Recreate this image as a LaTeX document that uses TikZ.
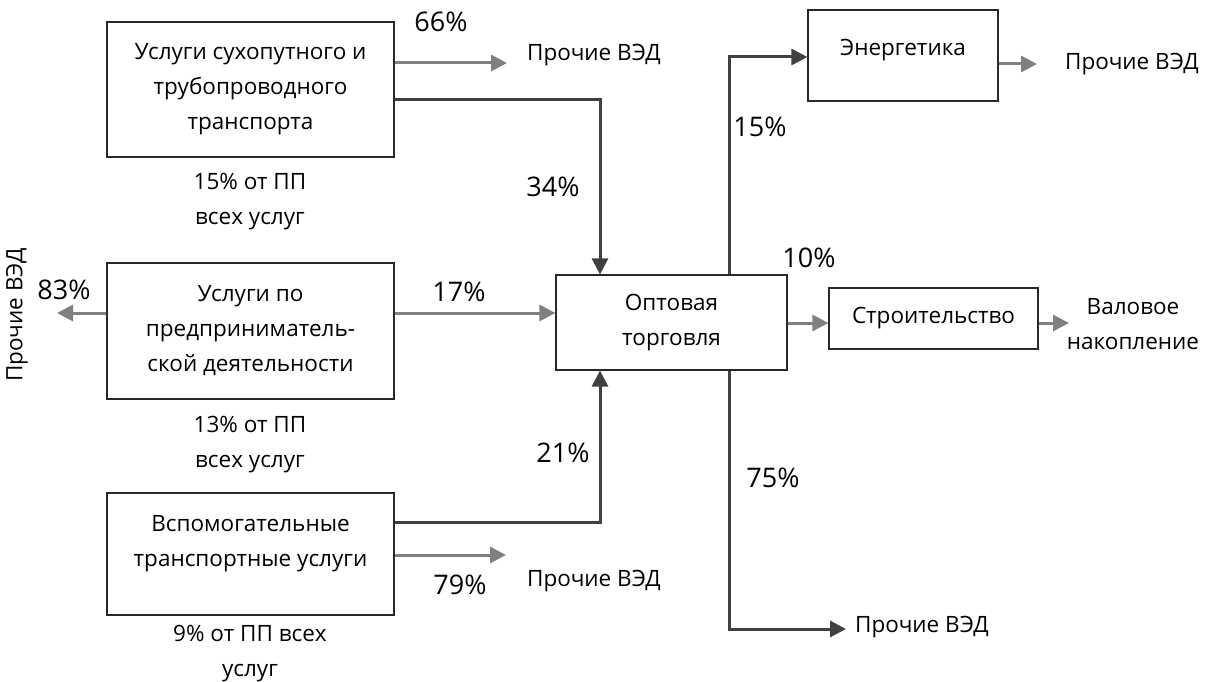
\documentclass[tikz,border=0pt]{standalone}
\usepackage{fontspec}
\setmainfont{Open Sans}
\usetikzlibrary{arrows.meta}

\definecolor{grayline}{RGB}{128,128,128}
\definecolor{darkline}{RGB}{64,64,64}
\definecolor{boxline}{RGB}{40,40,40}

\tikzset{
  box/.style={draw=boxline, line width=1.2pt, inner sep=0pt, align=center,
    font=\fontsize{22.5}{35}\selectfont},
  txt/.style={inner sep=0pt, align=center, font=\fontsize{22.5}{35}\selectfont},
  pct/.style={inner sep=0pt, font=\fontsize{27}{30}\selectfont},
  grayarr/.style={draw=grayline, line width=3pt,
    -{Triangle[length=16pt,width=16pt]}},
  darkarr/.style={draw=darkline, line width=3pt,
    -{Triangle[length=16pt,width=16pt]}},
}

\begin{document}
\begin{tikzpicture}[x=1pt,y=1pt,yscale=-1]
\useasboundingbox (0,0) rectangle (1211,682);

%Shape: Rectangle
\node[box, minimum width=287, minimum height=135] (land) at (250.5,89.5)
  {Услуги сухопутного и\\трубопроводного\\транспорта};
%Shape: Rectangle
\node[box, minimum width=287, minimum height=136] (busi) at (250.5,331)
  {Услуги по\\предприниматель-\\ской деятельности};
%Shape: Rectangle
\node[box, minimum width=287, minimum height=122] (aux) at (250.5,554) {};
\node[txt] (auxtxt) at (250.5,543.5) {Вспомогательные\\транспортные услуги};
%Shape: Rectangle
\node[box, minimum width=231, minimum height=95] (whole) at (671.5,322.5)
  {Оптовая\\торговля};
%Shape: Rectangle
\node[box, minimum width=190, minimum height=91] (energy) at (903,55.5) {};
\node[txt] (energytxt) at (903,50) {Энергетика};
%Shape: Rectangle
\node[box, minimum width=209, minimum height=61] (build) at (933.5,318.5)
  {Строительство};

% Text Node
\node[txt] (landnote) at (250,202) {15\% от ПП\\всех услуг};
% Text Node
\node[txt] (businote) at (250,445) {13\% от ПП\\всех услуг};
% Text Node
\node[txt] (auxnote) at (250,653.5) {9\% от ПП всех\\услуг};
% Text Node
\node[txt, anchor=west] (other1) at (527,55) {Прочие ВЭД};
% Text Node
\node[txt, rotate=90] (other2) at (17,315) {Прочие ВЭД};
% Text Node
\node[txt, anchor=west] (other3) at (527,581) {Прочие ВЭД};
% Text Node
\node[txt, anchor=west] (other4) at (855,627) {Прочие ВЭД};
% Text Node
\node[txt, anchor=west] (other5) at (1065,64) {Прочие ВЭД};
% Text Node
\node[txt] (accum) at (1133,324.5) {Валовое\\накопление};

% free ends of the connectors
\coordinate (e1) at (507,63);
\coordinate (e2) at (57,313);
\coordinate (e3) at (506,555);
\coordinate (e4) at (846,629);
\coordinate (e5) at (1037,64);
\coordinate (e6) at (1069,323);
\coordinate (k1) at (600,100);
\coordinate (k2) at (600,522);
\coordinate (k3) at (729,57);
\coordinate (k4) at (729,629);
\coordinate (k5) at (556,313);

%Straight Lines
\draw[grayarr] (land.east |- e1) -- (e1);
\draw[darkarr] (land.east |- k1) -- (k1) -- (k1 |- whole.north);
\draw[grayarr] (busi.west |- e2) -- (e2);
\draw[grayarr] (busi.east |- k5) -- (whole.west |- k5);
\draw[grayarr] (aux.east |- e3) -- (e3);
\draw[darkarr] (aux.east |- k2) -- (k2) -- (k2 |- whole.south);
\draw[darkarr] (k3 |- whole.north) -- (k3) -- (energy.west |- k3);
\draw[darkarr] (k4 |- whole.south) -- (k4) -- (e4);
\draw[grayarr] (whole.east |- e6) -- (build.west |- e6);
\draw[grayarr] (build.east |- e6) -- (e6);
\draw[grayarr] (energy.east |- e5) -- (e5);

% Text Node
\node[pct] (p66) at (441,22) {66\%};
\node[pct] (p34) at (553,187) {34\%};
\node[pct] (p17) at (459,292) {17\%};
\node[pct] (p83) at (64,290) {83\%};
\node[pct] (p21) at (563,453) {21\%};
\node[pct] (p79) at (460,585) {79\%};
\node[pct] (p15) at (760,127) {15\%};
\node[pct] (p10) at (809,258) {10\%};
\node[pct] (p75) at (773,478) {75\%};

\end{tikzpicture}
\end{document}
